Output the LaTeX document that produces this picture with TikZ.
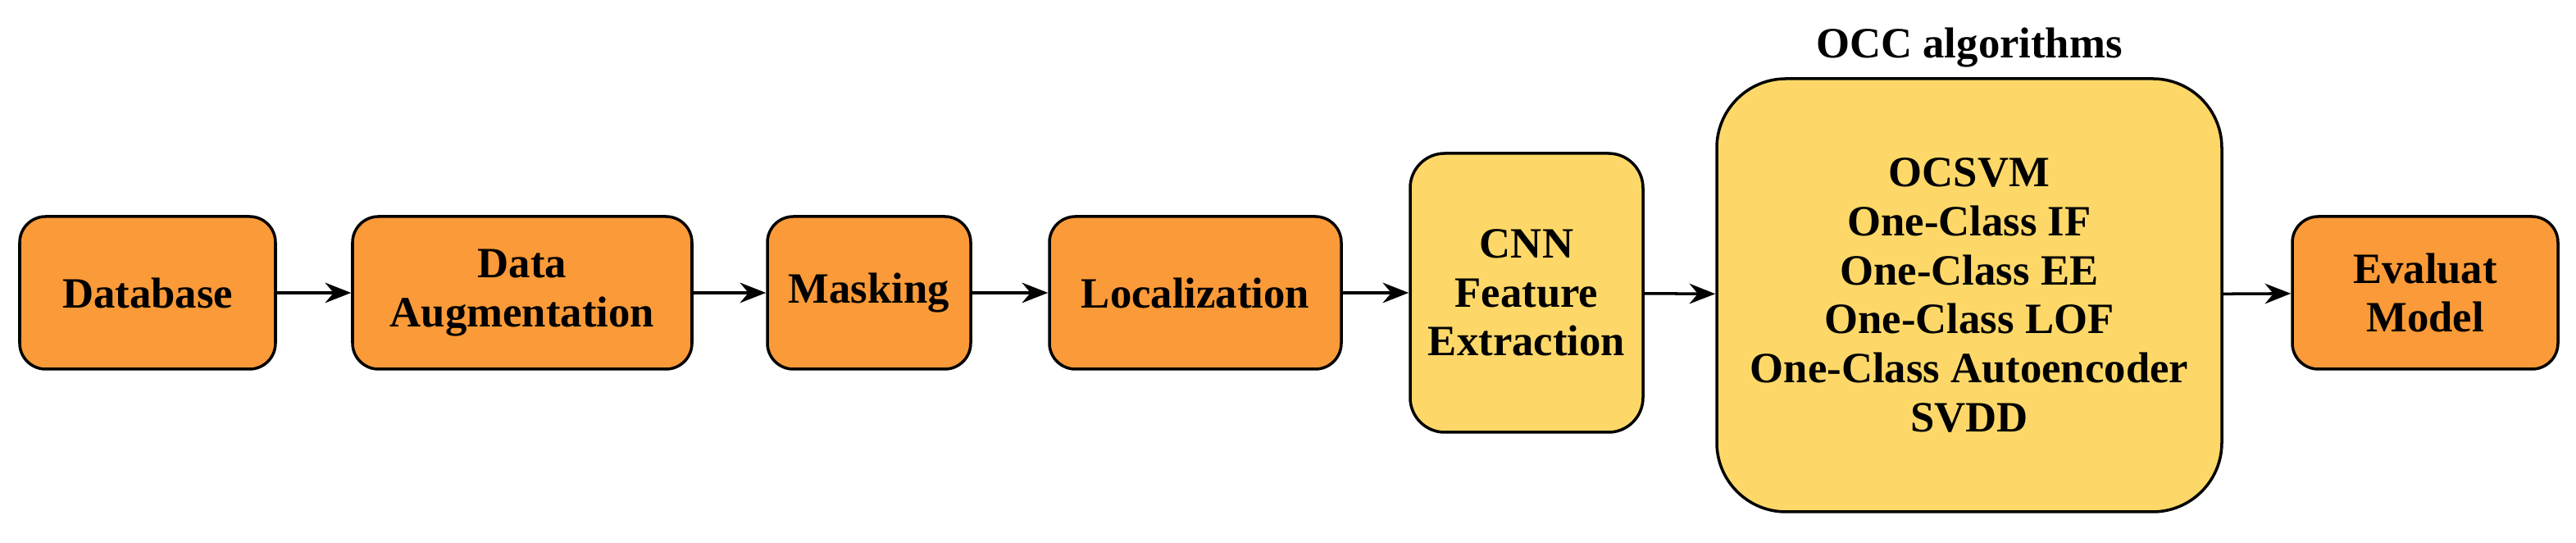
\documentclass[tikz,border=0pt]{standalone}
\usepackage{fontspec}
\setmainfont{Liberation Serif}
\usetikzlibrary{positioning,arrows.meta}
\definecolor{stepor}{HTML}{FA9A38}
\definecolor{stepye}{HTML}{FDD868}
\begin{document}
\begin{tikzpicture}[font=\fontsize{15}{17}\selectfont\bfseries,>={Stealth[length=9pt,width=7pt]},
  stage/.style={draw,line width=1pt,rounded corners=9pt,fill=stepor,align=center,minimum height=1.86cm},
  bigstage/.style={draw,line width=1pt,fill=stepye,align=center}]
\useasboundingbox (0,0) rectangle (31.42,6.62);

% pipeline steps
\node[stage,minimum width=3.12cm] (db) at (1.8,3.05) {Database};
\node[stage,minimum width=4.14cm] (aug) at (6.37,3.05) {Data\\Augmentation};
\node[stage,minimum width=2.48cm] (mask) at (10.6,3.05) {Masking};
\node[stage,minimum width=3.56cm] (loc) at (14.58,3.05) {Localization};
\node[bigstage,rounded corners=12pt,minimum width=2.84cm,minimum height=3.4cm] (cnn) at (18.62,3.05) {CNN\\Feature\\Extraction};
\node[bigstage,rounded corners=24pt,minimum width=6.16cm,minimum height=5.28cm] (occ) at (24.02,3.02)
  {OCSVM\\One-Class IF\\One-Class EE\\One-Class LOF\\One-Class Autoencoder\\SVDD};
\node[above=0pt of occ] (occt) {OCC algorithms};
\node[stage,minimum width=3.24cm] (eval) at (29.58,3.05) {Evaluat\\Model};

% connectors
\draw[->,line width=1pt] (db) -- (aug);
\draw[->,line width=1pt] (aug) -- (mask);
\draw[->,line width=1pt] (mask) -- (loc);
\draw[->,line width=1pt] (loc) -- (cnn);
\draw[->,line width=1pt] (cnn) -- (occ);
\draw[->,line width=1pt] (occ) -- (eval);

\end{tikzpicture}
\end{document}
